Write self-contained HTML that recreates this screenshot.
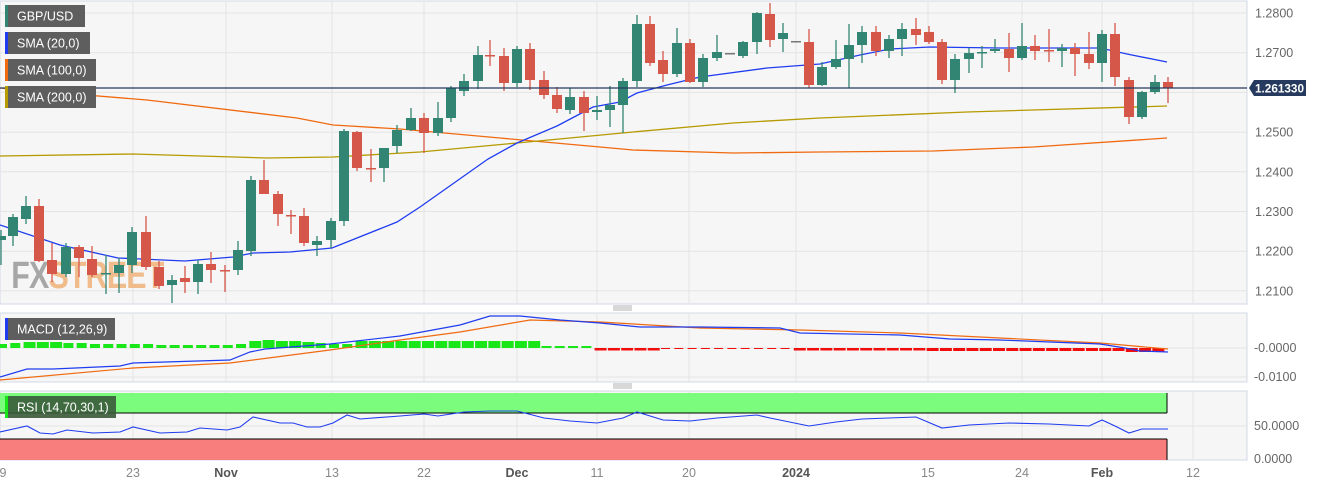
<!DOCTYPE html>
<html><head><meta charset="utf-8"><style>
body{margin:0;background:#fff;width:1323px;height:486px;overflow:hidden;font-family:"Liberation Sans",sans-serif}
svg{display:block}
</style></head><body>
<svg id="s" width="1323" height="486" xmlns="http://www.w3.org/2000/svg" font-family="Liberation Sans, sans-serif"></svg>
<script>
const s=document.getElementById('s');let h='';
h+='<rect x="0" y="0" width="1323" height="486" fill="#fff"/>';
h+='<rect x="0" y="1" width="1247" height="303" fill="#f6f6f6" stroke="#d3d8e6"/>';
h+='<rect x="0" y="313" width="1247" height="69" fill="#f6f6f6" stroke="#d3d8e6"/>';
h+='<rect x="0" y="391" width="1247" height="69" fill="#f6f6f6" stroke="#d3d8e6"/>';
const vx=[133,226,332,424,517,597,689,796,928,1022,1102,1193];
vx.forEach(x=>{h+=`<line x1="${x}" y1="1" x2="${x}" y2="304" stroke="#e4e4e4"/><line x1="${x}" y1="313" x2="${x}" y2="382" stroke="#e4e4e4"/><line x1="${x}" y1="391" x2="${x}" y2="460" stroke="#e4e4e4"/>`});
const pl=['1.2800','1.2700','1.2600','1.2500','1.2400','1.2300','1.2200','1.2100'];
pl.forEach((t,i)=>{const y=13+i*39.7;h+=`<line x1="0" y1="${y}" x2="1247" y2="${y}" stroke="#e4e4e4"/>`;if(i!=2)h+=`<text x="1255" y="${y+4.5}" font-size="12.5" fill="#666">${t}</text>`});
h+='<line x1="0" y1="348" x2="1247" y2="348" stroke="#e4e4e4"/><line x1="0" y1="377" x2="1247" y2="377" stroke="#e4e4e4"/>';
h+='<text x="1254" y="352" font-size="12.5" fill="#666">-0.0000</text><text x="1254" y="381" font-size="12.5" fill="#666">-0.0100</text>';
h+='<line x1="0" y1="426" x2="1247" y2="426" stroke="#e4e4e4"/>';
h+='<text x="1254" y="430" font-size="12.5" fill="#666">50.0000</text><text x="1254" y="463" font-size="12.5" fill="#666">0.0000</text>';
h+='<text x="14" y="288" font-size="38" font-weight="bold" fill="#9a9a9a" opacity="0.85" transform="scale(0.8,1)" style="letter-spacing:-1px">FX<tspan fill="#f0b27a">STREET</tspan></text>';
function pl_(pts,c,w){h+=`<polyline fill="none" stroke="${c}" stroke-width="${w||1.3}" points="${pts.map(p=>p.join(',')).join(' ')}"/>`}
pl_([[0,88],[147,100],[297,118],[333,125],[400,129],[500,138],[600,147],[633,150],[733,153],[820,152],[933,151],[1033,147],[1167,138]],'#f06a10');
pl_([[0,156],[133,154],[267,158],[333,157],[420,152],[517,143],[633,132],[733,123],[820,118],[967,112],[1167,106]],'#b59a00');
pl_([[0,225],[60,245],[118,258],[185,261],[233,257],[253,253],[290,252],[332,248],[397,222],[420,207],[488,159],[517,143],[557,126],[593,107],[620,102],[637,93],[667,85],[700,77],[767,68],[820,64],[860,55],[890,49],[930,47],[1000,48],[1100,48],[1127,54],[1167,62]],'#1f3cf0');
const C=[[1,240,236,230,265,'g'],[13,236,217,214,246,'g'],[26,219,206,196,224,'g'],[39,206,261,199,262,'r'],[52,260,274,243,282,'r'],[66,274,247,243,277,'g'],[79,247,258,245,277,'r'],[92,259,275,246,277,'r'],[106,274,273,255,294,'g'],[119,273,265,258,293,'g'],[132,265,232,227,273,'g'],[146,232,267,216,270,'r'],[159,267,286,261,289,'r'],[172,285,280,275,303,'g'],[185,278,282,266,293,'r'],[198,282,264,260,294,'g'],[211,264,270,252,283,'r'],[225,270,271,265,292,'r'],[238,270,250,241,275,'g'],[251,251,180,176,256,'g'],[264,180,194,160,194,'r'],[278,194,214,191,226,'r'],[291,215,216,210,234,'r'],[304,216,243,208,246,'r'],[317,245,241,236,256,'g'],[331,240,221,218,248,'g'],[344,221,131,129,226,'g'],[357,132,168,131,171,'r'],[371,168,169,149,182,'r'],[384,168,148,148,182,'g'],[397,146,130,125,153,'g'],[411,130,118,108,131,'g'],[424,118,133,113,153,'r'],[438,133,118,102,136,'g'],[451,118,88,86,122,'g'],[464,91,81,74,96,'g'],[478,81,55,46,89,'g'],[490,55,56,40,66,'r'],[504,56,83,48,91,'r'],[517,83,49,46,87,'g'],[530,49,80,43,90,'r'],[544,80,95,71,99,'r'],[557,95,109,87,113,'r'],[570,110,97,88,114,'g'],[584,97,113,91,131,'r'],[597,112,110,96,120,'g'],[610,110,105,86,127,'g'],[623,105,81,78,133,'g'],[637,81,24,15,87,'g'],[650,24,63,16,66,'r'],[663,60,74,51,82,'r'],[677,74,43,28,77,'g'],[690,43,82,39,83,'r'],[703,82,58,54,87,'g'],[717,58,52,35,61,'g'],[730,53,54,53,54,'k'],[743,56,42,41,58,'g'],[757,42,13,12,54,'g'],[770,14,40,3,47,'r'],[783,39,33,23,52,'g'],[796,41,42,41,42,'k'],[809,42,85,29,88,'r'],[822,85,67,62,86,'g'],[836,67,59,40,69,'g'],[849,59,45,24,88,'g'],[862,45,32,26,63,'g'],[876,32,51,26,56,'r'],[889,51,39,35,58,'g'],[902,39,29,23,56,'g'],[916,29,35,18,45,'r'],[929,32,42,26,44,'r'],[942,42,80,39,84,'r'],[955,80,59,54,93,'g'],[969,59,53,48,73,'g'],[982,53,52,46,68,'g'],[995,51,49,39,53,'g'],[1009,49,58,33,72,'r'],[1022,58,46,23,60,'g'],[1035,46,51,35,60,'r'],[1049,50,51,29,62,'r'],[1062,51,48,44,67,'g'],[1075,48,54,43,76,'r'],[1089,54,63,32,69,'r'],[1102,63,34,30,82,'g'],[1115,34,77,23,86,'r'],[1129,80,117,77,124,'r'],[1142,117,92,91,119,'g'],[1155,92,82,75,94,'g'],[1168,82,88,77,103,'r']];
C.forEach(c=>{const col=c[5]=='g'?'#338573':c[5]=='r'?'#d4574a':'#777';const t=Math.min(c[1],c[2]),b=Math.max(c[1],c[2]);
h+=`<line x1="${c[0]}" y1="${c[3]}" x2="${c[0]}" y2="${c[4]}" stroke="${col}" stroke-width="1.3"/>`;
h+=`<rect x="${c[0]-5}" y="${t}" width="10" height="${Math.max(b-t,1.5)}" fill="${col}"/>`});
h+='<line x1="0" y1="88" x2="1247" y2="88" stroke="#253a5e" stroke-width="1.2"/>';
h+='<path d="M1249,88 L1254,80 L1306,80 L1306,96 L1254,96 Z" fill="#253a5e"/><text x="1255" y="92.5" font-size="12" font-weight="bold" fill="#fff" textLength="49" lengthAdjust="spacingAndGlyphs">1.261330</text>';
function lg(x,y,w,t,c,bg){h+=`<rect x="${x}" y="${y}" width="${w}" height="22" fill="${bg||'#5e5e5e'}"/><rect x="${x}" y="${y}" width="3" height="22" fill="${c}"/><text x="${x+12}" y="${y+15.5}" font-size="12.5" fill="#fff">${t}</text>`}
lg(5,5,80,'GBP/USD','#338573');lg(5,32,85,'SMA (20,0)','#1f3cf0');lg(5,59,91,'SMA (100,0)','#f06a10');lg(5,86,91,'SMA (200,0)','#b59a00');
let hist=[3,4,5,5,5,4,4,3,3,3,3,3,2,2,2,2,2,2,3,6,7,6,6,5,4,3,3,6,6,6,6,6,6,6,6,6,6,6,6,6,6,5,4,3,2];
for(let i=0;i<88;i++){const x=3+i*13.28;let v=i<hist.length?hist[i]:-2;
if(i>=41&&i<45)v=1; if(i>=45&&i<50)v=-2.5;if(i>=50&&i<60)v=-1;if(i>=60&&i<70)v=-2.5;if(i>=70&&i<85)v=-3;if(i>=85)v=-4;
if(v>0)h+=`<rect x="${x-6}" y="${348-v-1}" width="${v>4?12:10}" height="${v+1}" fill="#19e619"/>`;else h+=`<rect x="${x-6}" y="348" width="${v<-2?12:9}" height="${-v}" fill="#f20d0d"/>`}
pl_([[0,380],[133,368],[230,363],[330,350],[400,340],[460,332],[530,320],[600,322],[700,328],[800,330],[900,333],[1000,338],[1100,343],[1168,349]],'#f06a10',1.2);
pl_([[0,377],[27,369],[53,369],[120,366],[133,363],[230,360],[250,352],[265,349],[330,344],[400,336],[460,325],[490,316],[520,316],[560,320],[600,323],[640,327],[700,327],[780,328],[800,333],[900,335],[950,339],[1000,340],[1100,344],[1125,348],[1140,351],[1168,352]],'#1f3cf0',1.2);
lg(5,318,110,'MACD (12,26,9)','#1f3cf0');
h+='<rect x="0" y="393" width="1167" height="20" fill="#7cfc7c"/><line x1="0" y1="413" x2="1167" y2="413" stroke="#000"/><line x1="1167" y1="393" x2="1167" y2="413" stroke="#000"/>';
h+='<rect x="0" y="439" width="1167" height="21" fill="#f87d7d"/><line x1="0" y1="439" x2="1167" y2="439" stroke="#000"/><line x1="1167" y1="439" x2="1167" y2="460" stroke="#000"/>';
pl_([[0,432],[27,426],[40,433],[53,434],[67,430],[93,433],[120,432],[133,427],[160,433],[187,432],[200,428],[227,430],[240,427],[253,417],[280,423],[293,423],[307,427],[320,427],[333,423],[347,415],[360,419],[400,416],[424,414],[438,416],[464,412],[490,411],[517,411],[544,418],[570,421],[597,423],[623,418],[637,412],[663,420],[690,421],[717,418],[757,415],[770,418],[809,426],[836,422],[862,419],[889,418],[916,417],[942,428],[969,425],[1009,423],[1049,424],[1089,426],[1102,420],[1115,426],[1129,433],[1142,429],[1168,429]],'#1f3cf0',1.1);
h+='<rect x="5" y="396" width="111" height="22" fill="#3a5a3a" opacity="0.9"/><rect x="5" y="396" width="3" height="22" fill="#19e619"/><text x="17" y="411.5" font-size="12.5" fill="#fff">RSI (14,70,30,1)</text>';
[308,386].forEach(y=>{h+=`<line x1="613" y1="${y-2}" x2="632" y2="${y-2}" stroke="#999" stroke-width="0.8"/><line x1="613" y1="${y}" x2="632" y2="${y}" stroke="#999" stroke-width="0.8"/><line x1="613" y1="${y+2}" x2="632" y2="${y+2}" stroke="#999" stroke-width="0.8"/>`});
[[3,'9'],[133,'23'],[226,'Nov',1],[332,'13'],[424,'22'],[517,'Dec',1],[597,'11'],[689,'20'],[796,'2024',1],[928,'15'],[1022,'24'],[1102,'Feb',1],[1193,'12']].forEach(l=>{h+=`<text x="${l[0]}" y="477" font-size="12.5" text-anchor="middle" fill="${l[2]?'#555':'#888'}" ${l[2]?'font-weight="bold"':''}>${l[1]}</text>`});
s.innerHTML=h;
</script>
</body></html>
